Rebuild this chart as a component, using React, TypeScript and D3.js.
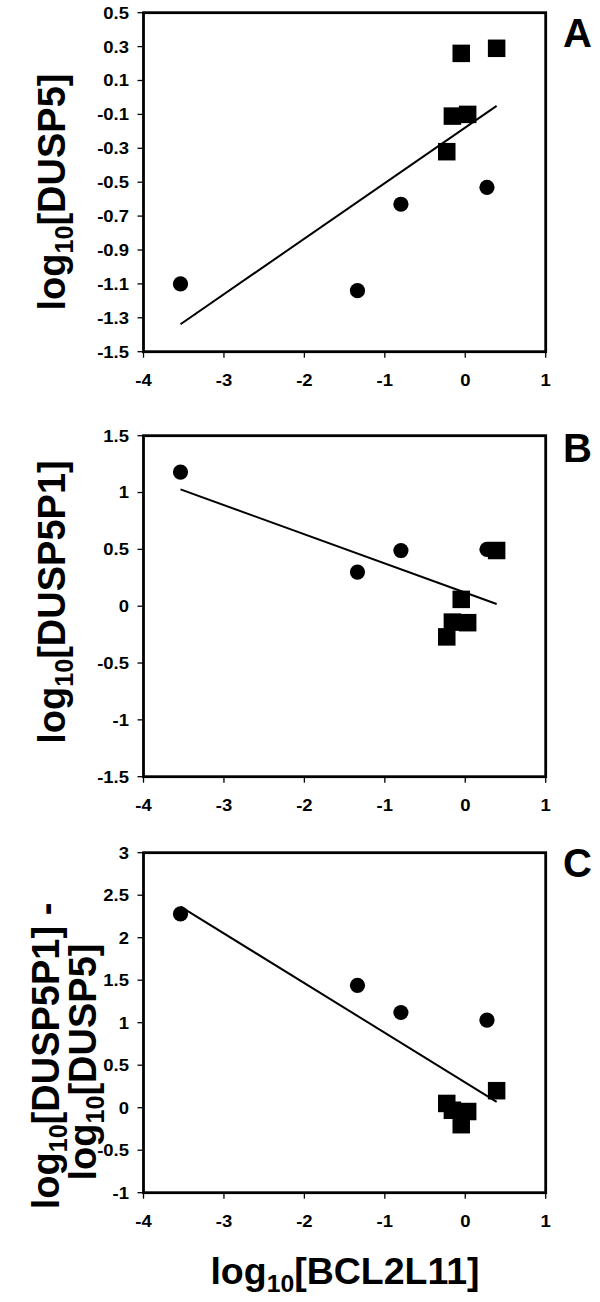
import React from 'react';
import * as d3 from 'd3';

// x values (log10[BCL2L11]) shared by all panels
const xCircles = [-3.54, -1.34, -0.8, 0.27];
const xSquares = [-0.23, -0.16, 0.03, -0.05, 0.39];
// Panel A: log10[DUSP5]
const dusp5Circles = [-1.1, -1.14, -0.63, -0.53];
const dusp5Squares = [-0.32, -0.11, -0.1, 0.26, 0.29];
// Panel B: log10[DUSP5P1]
const dusp5p1Circles = [1.18, 0.3, 0.49, 0.5];
const dusp5p1Squares = [-0.27, -0.14, -0.145, 0.06, 0.49];
// Panel C: difference
const diffCircles = [2.28, 1.44, 1.12, 1.03];
const diffSquares = [0.05, -0.03, -0.045, -0.2, 0.2];

const xTicks = [-4, -3, -2, -1, 0, 1];
const yTicksA = ['0.5', '0.3', '0.1', '-0.1', '-0.3', '-0.5', '-0.7', '-0.9', '-1.1', '-1.3', '-1.5'];
const yTicksB = ['1.5', '1', '0.5', '0', '-0.5', '-1', '-1.5'];
const yTicksC = ['3', '2.5', '2', '1.5', '1', '0.5', '0', '-0.5', '-1'];
const panelLetters = ['A', 'B', 'C'];

const FONT = '"Liberation Sans", Arial, Helvetica, sans-serif';

type PanelProps = {
  top: number;
  bottom: number;
  yDomain: [number, number];
  yTicks: string[];
  circlesY: number[];
  squaresY: number[];
  letter: string;
  letterY: number;
};

const LEFT = 143.5;
const RIGHT = 545.7;
const TICK_SX = 1.12;

function Panel({ top, bottom, yDomain, yTicks, circlesY, squaresY, letter, letterY }: PanelProps) {
  const x = d3.scaleLinear().domain([-4, 1]).range([LEFT, RIGHT]);
  const y = d3.scaleLinear().domain(yDomain).range([bottom, top]);
  const allX = [...xCircles, ...xSquares];
  const allY = [...circlesY, ...squaresY];
  const mx = d3.mean(allX)!;
  const my = d3.mean(allY)!;
  const sxy = d3.sum(allX.map((v, i) => (v - mx) * (allY[i] - my)));
  const sxx = d3.sum(allX.map((v) => (v - mx) * (v - mx)));
  const slope = sxy / sxx;
  const [x0, x1] = d3.extent(allX) as [number, number];
  const fit = (v: number) => my + slope * (v - mx);
  const line = d3.line<number>().x((v) => x(v)).y((v) => y(fit(v)));
  const sq = 17.5;
  return (
    <g>
      <path d={line([x0, x1]) || ''} fill="none" stroke="#000" strokeWidth={2} />
      {xCircles.map((v, i) => (
        <circle key={'c' + i} cx={x(v)} cy={y(circlesY[i])} r={7.6} fill="#000" />
      ))}
      {xSquares.map((v, i) => (
        <rect key={'s' + i} x={x(v) - sq / 2} y={y(squaresY[i]) - sq / 2} width={sq} height={sq} fill="#000" />
      ))}
      <rect x={LEFT} y={top} width={RIGHT - LEFT} height={bottom - top} fill="none" stroke="#000" strokeWidth={2.8} />
      {yTicks.map((t) => (
        <g key={'yt' + t}>
          <line x1={LEFT - 6} x2={LEFT} y1={y(+t)} y2={y(+t)} stroke="#000" strokeWidth={1.3} />
          <text transform={`translate(129,${y(+t)}) scale(${TICK_SX},1)`} dy="0.36em" textAnchor="end"
            fontFamily={FONT} fontWeight="bold" fontSize={16.5}>
            {t}
          </text>
        </g>
      ))}
      {xTicks.map((t) => (
        <g key={'xt' + t}>
          <line x1={x(t)} x2={x(t)} y1={bottom} y2={bottom + 6} stroke="#000" strokeWidth={1.3} />
          <text transform={`translate(${x(t)},${bottom + 34}) scale(${TICK_SX},1)`} textAnchor="middle"
            fontFamily={FONT} fontWeight="bold" fontSize={16.5}>
            {t}
          </text>
        </g>
      ))}
      <text x={577.5} y={letterY} textAnchor="middle" fontFamily={FONT} fontWeight="bold" fontSize={40}>
        {letter}
      </text>
    </g>
  );
}

function LogLabel({ name, size }: { name: string; size: number }) {
  return (
    <>
      log
      <tspan fontSize={size * 0.66} dy={size * 0.22}>10</tspan>
      <tspan dy={-size * 0.22}>{name}</tspan>
    </>
  );
}

export default function App() {
  return (
    <svg
      width={600}
      height={1302}
      style={{ position: 'absolute', left: 0, top: 0, background: '#fff' }}
    >
      <rect x={0} y={0} width={600} height={1302} fill="#fff" />
      <Panel top={12.7} bottom={351.7} yDomain={[-1.5, 0.5]} yTicks={yTicksA}
        circlesY={dusp5Circles} squaresY={dusp5Squares} letter={panelLetters[0]} letterY={47} />
      <Panel top={435.7} bottom={776.7} yDomain={[-1.5, 1.5]} yTicks={yTicksB}
        circlesY={dusp5p1Circles} squaresY={dusp5p1Squares} letter={panelLetters[1]} letterY={462} />
      <Panel top={852.7} bottom={1192.7} yDomain={[-1, 3]} yTicks={yTicksC}
        circlesY={diffCircles} squaresY={diffSquares} letter={panelLetters[2]} letterY={877} />

      <text transform="translate(65,192) rotate(-90)" textAnchor="middle" fontFamily={FONT} fontWeight="bold" fontSize={38}>
        <LogLabel name="[DUSP5]" size={38} />
      </text>
      <text transform="translate(65,602) rotate(-90)" textAnchor="middle" fontFamily={FONT} fontWeight="bold" fontSize={38}>
        <LogLabel name="[DUSP5P1]" size={38} />
      </text>
      <text transform="translate(59,1056) rotate(-90)" textAnchor="middle" fontFamily={FONT} fontWeight="bold" fontSize={38}>
        <LogLabel name="[DUSP5P1] -" size={38} />
      </text>
      <text transform="translate(96,1062) rotate(-90)" textAnchor="middle" fontFamily={FONT} fontWeight="bold" fontSize={38}>
        <LogLabel name="[DUSP5]" size={38} />
      </text>
      <text x={345} y={1284} textAnchor="middle" fontFamily={FONT} fontWeight="bold" fontSize={37.5}>
        <LogLabel name="[BCL2L11]" size={37.5} />
      </text>
    </svg>
  );
}
